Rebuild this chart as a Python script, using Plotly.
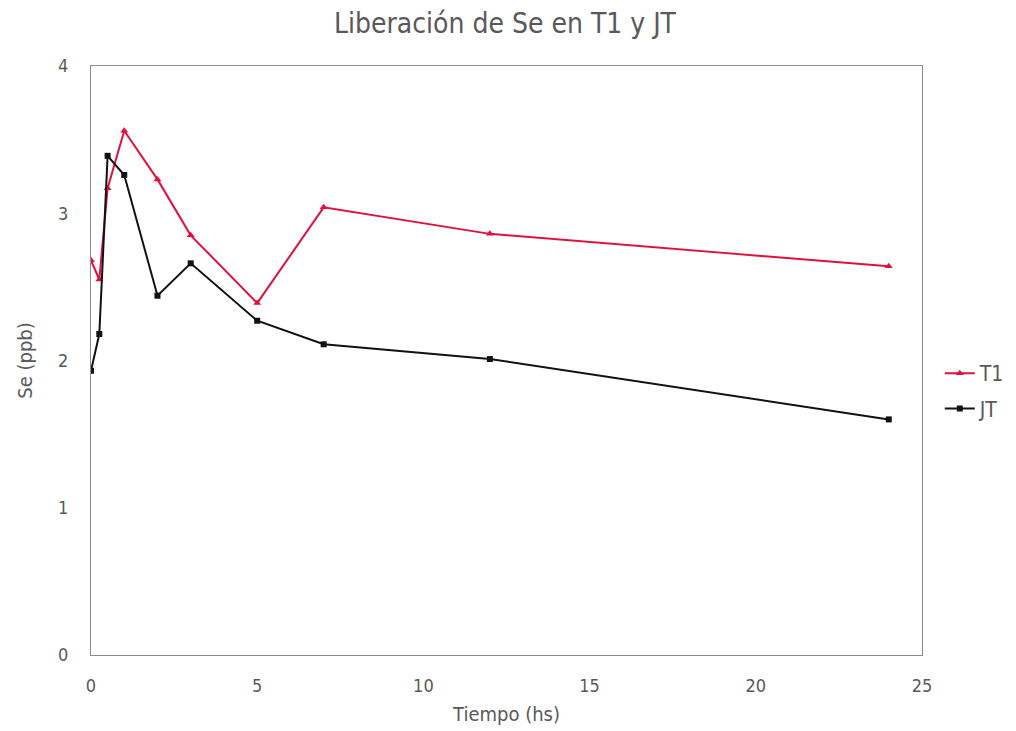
import plotly.graph_objects as go

# Sampling times (hours)
tiempo = [0, 0.25, 0.5, 1, 2, 3, 5, 7, 12, 24]

# Selenium released (ppb)
se_t1 = [2.68, 2.55, 3.17, 3.56, 3.23, 2.85, 2.39, 3.04, 2.86, 2.64]
se_jt = [1.93, 2.18, 3.39, 3.26, 2.44, 2.66, 2.27, 2.11, 2.01, 1.60]

FONT = "DejaVu Sans Condensed, Liberation Sans Narrow, sans-serif"
GREY = "#595959"

fig = go.Figure()
fig.add_trace(go.Scatter(
    x=tiempo, y=se_t1, name="T1", mode="lines+markers", legendgroup="a",
    line=dict(color="#E2103F", width=2),
    marker=dict(symbol="triangle-up", size=7, color="#E2103F"),
))
fig.add_trace(go.Scatter(
    x=tiempo, y=se_jt, name="JT", mode="lines+markers", legendgroup="b",
    line=dict(color="#111111", width=2),
    marker=dict(symbol="square", size=6, color="#111111"),
))

fig.update_layout(
    width=1016, height=731,
    paper_bgcolor="white", plot_bgcolor="white",
    margin=dict(l=91, r=94, t=66, b=76, autoexpand=False),
    title=dict(text="Liberación de Se en T1 y JT", x=0.497, xanchor="center",
               y=0.968, yanchor="middle",
               font=dict(family=FONT, size=28, color=GREY)),
    font=dict(family=FONT, size=17, color=GREY),
    showlegend=True,
    legend=dict(xref="container", yref="container",
                x=0.925, xanchor="left", y=0.465, yanchor="middle",
                font=dict(family=FONT, size=21, color=GREY),
                bgcolor="rgba(0,0,0,0)", traceorder="grouped",
                tracegroupgap=5, itemwidth=30),
    xaxis=dict(range=[0, 25], dtick=5, tick0=0, showgrid=False, zeroline=False,
               showline=True, linecolor="#8c8c8c", linewidth=1, mirror=True,
               ticks="", ticklabelstandoff=14, automargin=False,
               tickfont=dict(family=FONT, size=18, color=GREY),
               title=dict(text="Tiempo (hs)", standoff=12,
                          font=dict(family=FONT, size=20, color=GREY))),
    yaxis=dict(range=[0, 4], dtick=1, tick0=0, showgrid=False, zeroline=False,
               showline=True, linecolor="#8c8c8c", linewidth=1, mirror=True,
               ticks="", ticklabelstandoff=18, automargin=False,
               tickfont=dict(family=FONT, size=18, color=GREY),
               title=dict(text="Se (ppb)", standoff=20,
                          font=dict(family=FONT, size=20, color=GREY))),
)

fig.write_html("out.html")
